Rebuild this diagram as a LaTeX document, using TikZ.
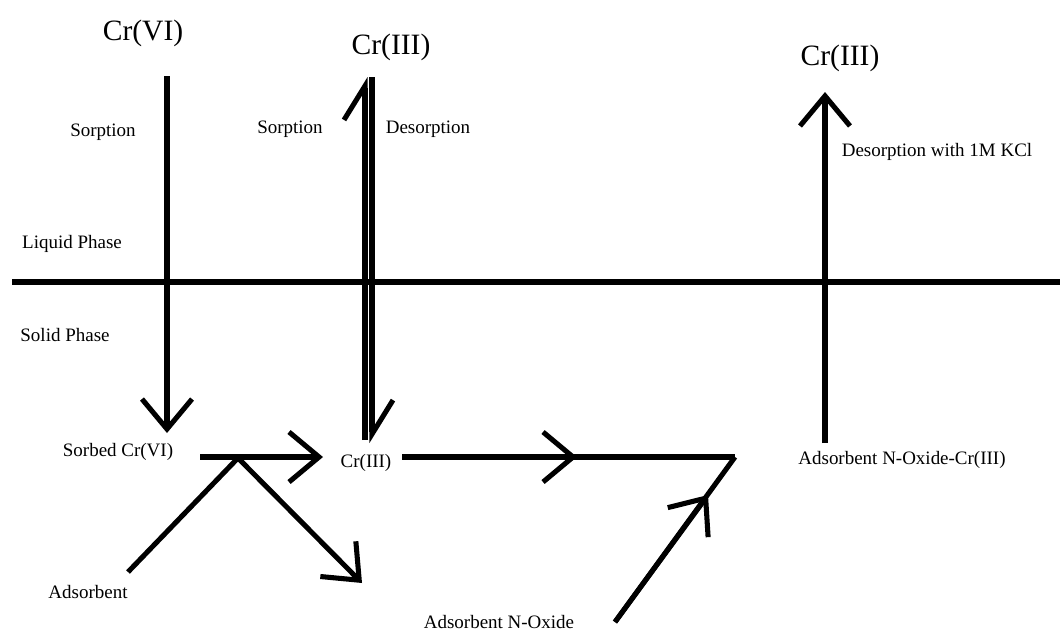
\documentclass[tikz,border=0pt]{standalone}
\usepackage{fontspec}
\setmainfont{Liberation Serif}
\usetikzlibrary{arrows.meta}

\begin{document}
\begin{tikzpicture}[x=0.025cm, y=-0.025cm]
\tikzstyle{species} = [font=\fontsize{21}{24}\selectfont, inner sep=0pt]
\tikzstyle{note} = [font=\fontsize{13.5}{16}\selectfont, inner sep=0pt]
\tikzstyle{thickline} = [line width=3.6pt]
\tikzstyle{arrow} = [thickline, -{Straight Barb[length=0.75cm, width=1.25cm]}]
\tikzstyle{harpoon} = [thickline, -{Straight Barb[left, length=0.85cm, width=1.05cm]}]

\useasboundingbox (0,0) rectangle (1060,632);

% species and labels
\node (cr6) [species] at (143,33) {Cr(VI)};
\node (cr3top) [species] at (391,47) {Cr(III)};
\node (cr3right) [species] at (840,58) {Cr(III)};
\node (sorp1) [note] at (103,132) {Sorption};
\node (sorp2) [note] at (290,129) {Sorption};
\node (desorp) [note] at (428,129) {Desorption};
\node (kcl) [note] at (937,152) {Desorption with 1M KCl};
\node (liquid) [note] at (72,244) {Liquid Phase};
\node (solid) [note] at (65,335) {Solid Phase};
\node (sorbed) [note] at (118,452) {Sorbed Cr(VI)};
\node (cr3mid) [note] at (366,463) {Cr(III)};
\node (noxcr) [note] at (902,460) {Adsorbent N-Oxide-Cr(III)};
\node (adsorb) [note] at (88,592) {Adsorbent};
\node (noxide) [note] at (499,622) {Adsorbent N-Oxide};

% end points of the connectors
\coordinate (lineL) at (12,282);
\coordinate (lineR) at (1060,282);
\coordinate (v1top) at (167,76);
\coordinate (v1bot) at (167,433);
\coordinate (h2top) at (365,77);
\coordinate (h2bot) at (365,440);
\coordinate (h3top) at (372,77);
\coordinate (h3bot) at (372,443);
\coordinate (v4top) at (825,92);
\coordinate (v4bot) at (825,443);
\coordinate (r1start) at (200,457);
\coordinate (r1end) at (323,457);
\coordinate (junc) at (238,458);
\coordinate (adsend) at (128,572);
\coordinate (byprod) at (362,583);
\coordinate (r2start) at (402,457);
\coordinate (r2mid) at (577,457);
\coordinate (corner) at (735,457);
\coordinate (noxstart) at (615,622);
\coordinate (noxmid) at (708,495);

% phase boundary
\draw [thickline] (lineL) -- (lineR);

% sorption / desorption arrows
\draw [arrow] (v1top) -- (v1bot);
\draw [harpoon] (h2bot) -- (h2top);
\draw [harpoon] (h3top) -- (h3bot);
\draw [arrow] (v4bot) -- (v4top);

% reactions in the solid phase
\draw [arrow] (r1start) -- (r1end);
\draw [thickline] (adsend) -- (junc);
\draw [arrow] (junc) -- (byprod);
\draw [thickline] (r2start) -- (corner);
\draw [arrow] (r2start) -- (r2mid);
\draw [thickline] (noxstart) -- (corner);
\draw [arrow] (noxstart) -- (noxmid);
\end{tikzpicture}
\end{document}
